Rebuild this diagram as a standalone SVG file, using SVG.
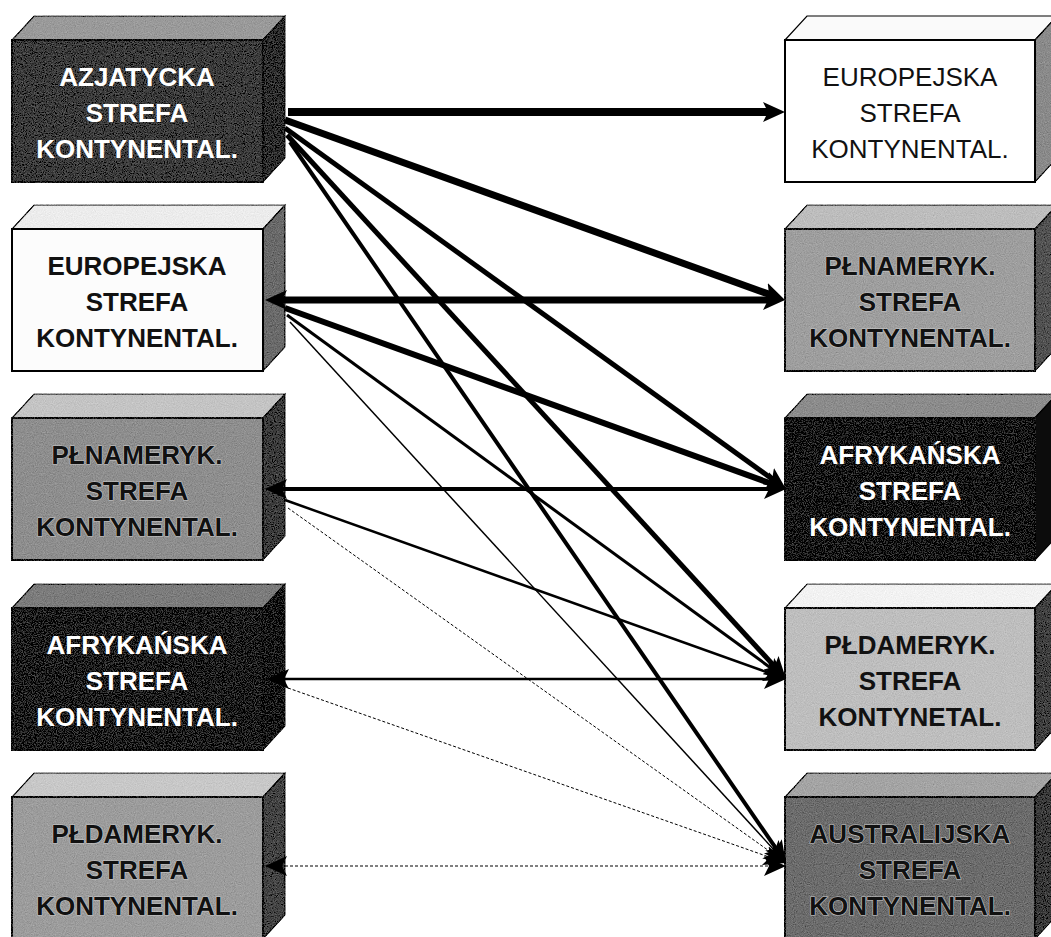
<svg xmlns="http://www.w3.org/2000/svg" width="1051" height="937" viewBox="0 0 1051 937">
<style>
.t{font-family:"Liberation Sans",Arial,sans-serif;font-size:26px;font-weight:bold;text-anchor:middle}
.r{font-weight:normal}
.w{fill:#ffffff}
.k{fill:#111111}
.halo{paint-order:stroke;stroke:#c8c8c8;stroke-width:1.2px}
.f{stroke:#000;stroke-width:2}
.e{stroke:#000;stroke-width:1.2}
.c{fill:none;stroke:#000;stroke-linecap:butt}
.dash{stroke-dasharray:3 2}
</style>
<defs>
<filter id="grain" x="-0.03" y="-0.03" width="1.06" height="1.06">
<feTurbulence type="fractalNoise" baseFrequency="0.9" numOctaves="2" seed="4" result="n0"/>
<feColorMatrix in="n0" type="matrix" values="0.33 0.33 0.33 0 0 0.33 0.33 0.33 0 0 0.33 0.33 0.33 0 0 0 0 0 0 1" result="n"/>
<feComposite in="SourceGraphic" in2="n" operator="arithmetic" k2="1" k3="0.4" k4="-0.2" result="m"/>
<feComposite in="m" in2="SourceGraphic" operator="in"/>
</filter>
<marker id="ah" viewBox="0 0 22 20" refX="7" refY="10" markerWidth="22" markerHeight="20" markerUnits="userSpaceOnUse" orient="auto-start-reverse">
<path d="M0,0 L22,10 L0,20 L5,10 z" fill="#000"/>
</marker>
</defs>

<!-- LEFT COLUMN -->
<g id="L1">
<polygon class="e" points="12,40 34,16 285,16 263,40" fill="#9a9a9a" filter="url(#grain)"/>
<polygon class="e" points="263,40 285,16 285,158 263,182" fill="#2e2e2e" filter="url(#grain)"/>
<rect class="f" x="12" y="40" width="251" height="142" fill="#3c3c3c" filter="url(#grain)"/>
<text class="t w" x="137" y="86">AZJATYCKA</text>
<text class="t w" x="137" y="122">STREFA</text>
<text class="t w" x="137" y="158">KONTYNENTAL.</text>
</g>
<g id="L2">
<polygon class="e" points="12,229 34,205 285,205 263,229" fill="#ececec" filter="url(#grain)"/>
<polygon class="e" points="263,229 285,205 285,347 263,371" fill="#6a6a6a" filter="url(#grain)"/>
<rect class="f" x="12" y="229" width="251" height="142" fill="#fcfcfc"/>
<text class="t k" x="137" y="275">EUROPEJSKA</text>
<text class="t k" x="137" y="311">STREFA</text>
<text class="t k" x="137" y="347">KONTYNENTAL.</text>
</g>
<g id="L3">
<polygon class="e" points="12,418 34,394 285,394 263,418" fill="#c4c4c4" filter="url(#grain)"/>
<polygon class="e" points="263,418 285,394 285,536 263,560" fill="#3c3c3c" filter="url(#grain)"/>
<rect class="f" x="12" y="418" width="251" height="142" fill="#8e8e8e" filter="url(#grain)"/>
<text class="t k halo" x="137" y="464">PŁNAMERYK.</text>
<text class="t k halo" x="137" y="500">STREFA</text>
<text class="t k halo" x="137" y="536">KONTYNENTAL.</text>
</g>
<g id="L4">
<polygon class="e" points="12,608 34,584 285,584 263,608" fill="#7c7c7c" filter="url(#grain)"/>
<polygon class="e" points="263,608 285,584 285,726 263,750" fill="#141414" filter="url(#grain)"/>
<rect class="f" x="12" y="608" width="251" height="142" fill="#1e1e1e" filter="url(#grain)"/>
<text class="t w" x="137" y="654">AFRYKAŃSKA</text>
<text class="t w" x="137" y="690">STREFA</text>
<text class="t w" x="137" y="726">KONTYNENTAL.</text>
</g>
<g id="L5">
<polygon class="e" points="12,797 34,773 285,773 263,797" fill="#c8c8c8" filter="url(#grain)"/>
<polygon class="e" points="263,797 285,773 285,915 263,939" fill="#444444" filter="url(#grain)"/>
<rect class="f" x="12" y="797" width="251" height="142" fill="#9c9c9c" filter="url(#grain)"/>
<text class="t k halo" x="137" y="843">PŁDAMERYK.</text>
<text class="t k halo" x="137" y="879">STREFA</text>
<text class="t k halo" x="137" y="915">KONTYNENTAL.</text>
</g>

<!-- RIGHT COLUMN -->
<g id="R1">
<polygon class="e" points="785,40 807,16 1057,16 1035,40" fill="#fafafa"/>
<polygon class="e" points="1035,40 1057,16 1057,158 1035,182" fill="#8a8a8a" filter="url(#grain)"/>
<rect class="f" x="785" y="40" width="250" height="142" fill="#ffffff"/>
<text class="t r k" x="910" y="86">EUROPEJSKA</text>
<text class="t r k" x="910" y="122">STREFA</text>
<text class="t r k" x="910" y="158">KONTYNENTAL.</text>
</g>
<g id="R2">
<polygon class="e" points="785,229 807,205 1057,205 1035,229" fill="#bdbdbd" filter="url(#grain)"/>
<polygon class="e" points="1035,229 1057,205 1057,347 1035,371" fill="#525252" filter="url(#grain)"/>
<rect class="f" x="785" y="229" width="250" height="142" fill="#9e9e9e" filter="url(#grain)"/>
<text class="t k halo" x="910" y="275">PŁNAMERYK.</text>
<text class="t k halo" x="910" y="311">STREFA</text>
<text class="t k halo" x="910" y="347">KONTYNENTAL.</text>
</g>
<g id="R3">
<polygon class="e" points="785,418 807,394 1057,394 1035,418" fill="#8c8c8c" filter="url(#grain)"/>
<polygon class="e" points="1035,418 1057,394 1057,536 1035,560" fill="#0c0c0c"/>
<rect class="f" x="785" y="418" width="250" height="142" fill="#151515" filter="url(#grain)"/>
<text class="t w" x="910" y="464">AFRYKAŃSKA</text>
<text class="t w" x="910" y="500">STREFA</text>
<text class="t w" x="910" y="536">KONTYNENTAL.</text>
</g>
<g id="R4">
<polygon class="e" points="785,608 807,584 1057,584 1035,608" fill="#f2f2f2" filter="url(#grain)"/>
<polygon class="e" points="1035,608 1057,584 1057,726 1035,750" fill="#404040" filter="url(#grain)"/>
<rect class="f" x="785" y="608" width="250" height="142" fill="#bebebe" filter="url(#grain)"/>
<text class="t k" x="910" y="654">PŁDAMERYK.</text>
<text class="t k" x="910" y="690">STREFA</text>
<text class="t k" x="910" y="726">KONTYNETAL.</text>
</g>
<g id="R5">
<polygon class="e" points="785,797 807,773 1057,773 1035,797" fill="#a4a4a4" filter="url(#grain)"/>
<polygon class="e" points="1035,797 1057,773 1057,915 1035,939" fill="#3a3a3a" filter="url(#grain)"/>
<rect class="f" x="785" y="797" width="250" height="142" fill="#6c6c6c" filter="url(#grain)"/>
<text class="t k halo" x="910" y="843">AUSTRALIJSKA</text>
<text class="t k halo" x="910" y="879">STREFA</text>
<text class="t k halo" x="910" y="915">KONTYNENTAL.</text>
</g>

<!-- CONNECTORS -->
<g id="connectors">
<path class="c" stroke-width="8" d="M288,112 H770" marker-end="url(#ah)"/>
<path class="c" stroke-width="7" d="M285,120 L770.9,294.9" marker-end="url(#ah)"/>
<path class="c" stroke-width="5" d="M285,128 L773.8,480.2" marker-end="url(#ah)"/>
<path class="c" stroke-width="5" d="M287,135 L775.9,667.9" marker-end="url(#ah)"/>
<path class="c" stroke-width="4" d="M290,142 L777.5,850.6" marker-end="url(#ah)"/>

<path class="c" stroke-width="7" d="M280,300 H770" marker-start="url(#ah)" marker-end="url(#ah)"/>
<path class="c" stroke-width="6" d="M285,308 L771.9,483.9" marker-end="url(#ah)"/>
<path class="c" stroke-width="3" d="M287,315 L773.9,670.2" marker-end="url(#ah)"/>
<path class="c" stroke-width="1.5" d="M290,322 L775.9,851.9" marker-end="url(#ah)"/>

<path class="c" stroke-width="4" d="M280,489 H771" marker-start="url(#ah)" marker-end="url(#ah)"/>
<path class="c" stroke-width="2.5" d="M285,500 L771.9,674" marker-end="url(#ah)"/>
<path class="c dash" stroke-width="1" d="M288,508 L773.8,854.3" marker-end="url(#ah)"/>

<path class="c" stroke-width="2.5" d="M282,679 H771" marker-start="url(#ah)" marker-end="url(#ah)"/>
<path class="c dash" stroke-width="1" d="M288,688 L771.9,858" marker-end="url(#ah)"/>

<path class="c dash" stroke-width="1" d="M280,866 H771" marker-start="url(#ah)" marker-end="url(#ah)"/>
</g>
</svg>
